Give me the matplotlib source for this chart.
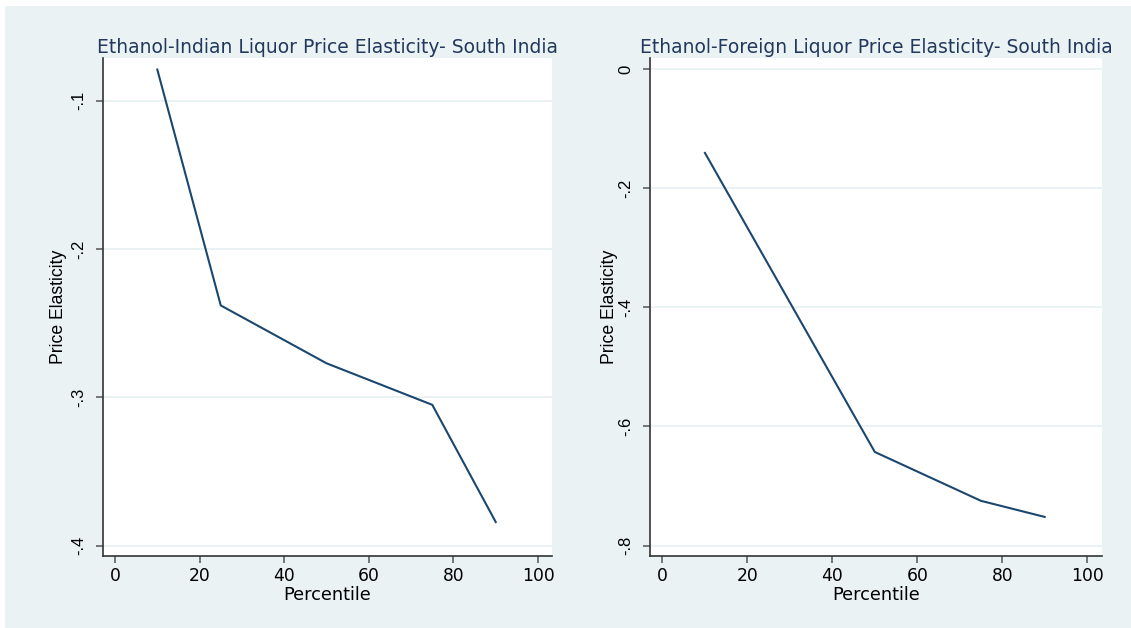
import matplotlib
matplotlib.use("Agg")
import matplotlib.pyplot as plt
from matplotlib.patches import Rectangle

# values
pct_indian = [10, 25, 50, 75, 90]
elast_indian = [-0.079, -0.238, -0.277, -0.305, -0.384]

pct_foreign = [10, 50, 75, 90]
elast_foreign = [-0.141, -0.643, -0.725, -0.752]

titles = ["Ethanol-Indian Liquor Price Elasticity- South India",
          "Ethanol-Foreign Liquor Price Elasticity- South India"]
x_ticks = [0, 20, 40, 60, 80, 100]
y_ticks_indian = [-0.4, -0.3, -0.2, -0.1]
y_labels_indian = ['-.4', '-.3', '-.2', '-.1']
y_ticks_foreign = [-0.8, -0.6, -0.4, -0.2, 0]
y_labels_foreign = ['-.8', '-.6', '-.4', '-.2', '0']

BG = '#eaf2f3'
LINE = '#1a476f'
TITLE = '#22385c'
W, H = 1131, 628


def px_rect(left, top, right, bottom):
    # pixel box -> figure fraction rect
    return [left / W, 1 - bottom / H, (right - left) / W, (bottom - top) / H]


def style_axes(ax, title, yticks, ylabels, ylim, xlim, ylab_x):
    ax.set_facecolor('white')
    ax.set_xlim(xlim)
    ax.set_ylim(ylim)
    for side in ['top', 'right']:
        ax.spines[side].set_visible(False)
    for side in ['left', 'bottom']:
        ax.spines[side].set_color('#333333')
        ax.spines[side].set_linewidth(1.2)

    ax.set_xticks(x_ticks)
    ax.set_xticklabels([str(t) for t in x_ticks], fontsize=12.3,
                       family='DejaVu Sans')
    ax.set_yticks(yticks)
    ax.set_yticklabels(ylabels, fontsize=12, family='Liberation Sans',
                       rotation=90, va='center')
    ax.tick_params(axis='x', length=5, width=1.1, color='#555555', pad=3)
    ax.tick_params(axis='y', length=5, width=1.1, color='#555555', pad=7)

    ax.yaxis.grid(True, color='#e6eff1', linewidth=1.1)
    ax.set_axisbelow(True)

    ax.set_title(title, fontsize=13.5, family='DejaVu Sans', color=TITLE,
                 pad=3.6)
    ax.set_xlabel('Percentile', fontsize=12.8, family='DejaVu Sans',
                  labelpad=1)
    ax.set_ylabel('Price Elasticity', fontsize=12.7, family='Liberation Sans')
    ax.yaxis.set_label_coords(ylab_x, 0.5)


fig = plt.figure(figsize=(W / 100, H / 100), dpi=100)
fig.patch.set_facecolor('white')
fig.patches.append(Rectangle((5 / W, 0), 1, 1 - 6 / H, transform=fig.transFigure,
                             facecolor=BG, edgecolor='none', zorder=-10))

ax1 = fig.add_axes(px_rect(103, 58, 552, 556))
ax1.plot(pct_indian, elast_indian, color=LINE, linewidth=1.5)
style_axes(ax1, titles[0], y_ticks_indian, y_labels_indian,
           (-0.4069, -0.0712), (-2.84, 103.3), -0.080)

ax2 = fig.add_axes(px_rect(650, 58, 1102, 556))
ax2.plot(pct_foreign, elast_foreign, color=LINE, linewidth=1.5)
style_axes(ax2, titles[1], y_ticks_foreign, y_labels_foreign,
           (-0.8176, 0.0183), (-2.94, 103.5), -0.070)

fig.savefig('out.png', dpi=100)
